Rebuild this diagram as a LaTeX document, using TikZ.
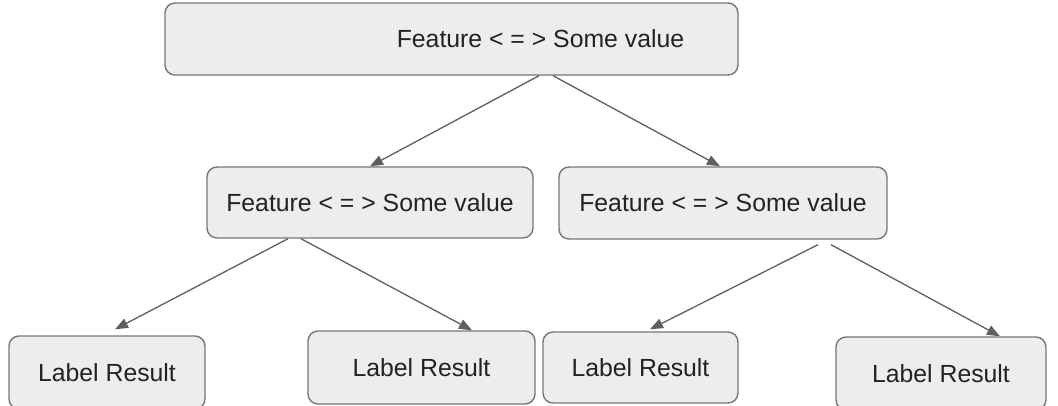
\documentclass[tikz,border=0pt]{standalone}
\usepackage{fontspec}
\setmainfont{Liberation Sans}
\usetikzlibrary{arrows.meta}
\definecolor{boxfill}{HTML}{EDEDED}
\definecolor{boxline}{HTML}{767676}
\definecolor{arrline}{HTML}{5E5E5E}
\definecolor{txtcol}{HTML}{222222}
\tikzset{
	box/.style={draw=boxline, fill=boxfill, line width=1.4pt, rounded corners=10pt, text=txtcol, font=\fontsize{24.8}{28}\selectfont, inner sep=0pt},
	arr/.style={color=arrline, line width=1.3pt, -{Triangle[length=13pt,width=10pt]}},
}
\begin{document}
\begin{tikzpicture}[x=1pt,y=-1pt]
			\useasboundingbox (0,0) rectangle (1058,406);
			% decisions
			\node[box, minimum width=573pt, minimum height=72pt] (root) at (451.5,39) {\hspace*{178pt}Feature < = > Some value};
			\node[box, minimum width=326pt, minimum height=71pt] (left) at (370,202.5) {Feature < = > Some value};
			\node[box, minimum width=328pt, minimum height=72pt] (right) at (723,203) {Feature < = > Some value};
			% leaves
			\node[box, minimum width=196pt, minimum height=73pt] (leafa) at (107,372.5) {Label Result};
			\node[box, minimum width=227pt, minimum height=73pt] (leafb) at (421.5,367.5) {Label Result};
			\node[box, minimum width=195pt, minimum height=71pt] (leafc) at (640.5,367.5) {Label Result};
			\node[box, minimum width=210pt, minimum height=73pt] (leafd) at (941,373.5) {Label Result};
			\path[arr]
			([xshift=87.5pt]root.south) edge (left.north)
			([xshift=101.5pt]root.south) edge ([xshift=-3pt]right.north)
			([xshift=-82pt]left.south) edge ([xshift=8pt,yshift=6pt]leafa.north)
			([xshift=-69pt]left.south) edge ([xshift=50.5pt]leafb.north)
			([xshift=95pt,yshift=-5pt]right.south) edge ([xshift=9.5pt,yshift=2pt]leafc.north)
			([xshift=108pt,yshift=-5pt]right.south) edge ([xshift=59pt]leafd.north);
		\end{tikzpicture}
\end{document}
